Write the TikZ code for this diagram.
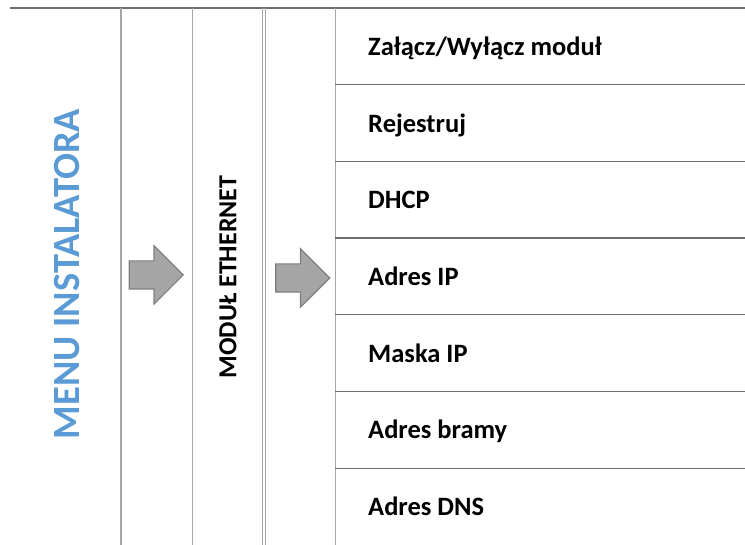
\documentclass[tikz,border=0pt]{standalone}
\usepackage{fontspec}
\setmainfont{Carlito}
\usetikzlibrary{shapes.arrows}
\definecolor{menublue}{HTML}{5B9BD5}
\definecolor{gridgray}{HTML}{A6A6A6}
\definecolor{rulegray}{HTML}{6E6E6E}
\definecolor{arrowfill}{HTML}{A5A5A5}
\definecolor{arrowline}{HTML}{7F7F7F}

\begin{document}
\begin{tikzpicture}[x=1pt,y=-1pt,
  item/.style={anchor=base west,inner sep=0pt,font=\bfseries\fontsize{26.5}{30}\selectfont},
  nextarrow/.style={single arrow,draw=arrowline,fill=arrowfill,line width=1.2pt,anchor=tip,
    minimum height=54pt,single arrow head extend=15pt,inner sep=13.5pt}]
\useasboundingbox (0,0) rectangle (745,545);
% frame lines
\draw[rulegray,line width=1.3pt] (10,8) -- (745,8);
\draw[gridgray,line width=2pt] (121,8) -- (121,545);
\draw[gridgray,line width=1pt] (192,8) -- (192,545);
\draw[gridgray,line width=1pt] (262,8) -- (262,545);
\draw[gridgray,line width=1pt] (265,8) -- (265,545);
\draw[gridgray,line width=1pt] (335,8) -- (335,545);
% titles
\node[rotate=90,text=menublue,font=\bfseries\fontsize{38.5}{46}\selectfont] (menu) at (67,274) {MENU INSTALATORA};
\node[rotate=90,font=\bfseries\fontsize{26}{30}\selectfont] (module) at (228,277) {MODUŁ ETHERNET};
\node[nextarrow] (arrowA) at (184,275) {};
\node[nextarrow] (arrowB) at (330.5,278) {};
% menu items
\foreach \txt [count=\i] in {{Załącz/Wyłącz moduł},Rejestruj,DHCP,Adres IP,Maska IP,Adres bramy,Adres DNS}
  \node[item] (row\i) at (368,{8+76.7*(\i-0.5)+9}) {\txt};
\foreach \i in {1,...,6}
  \draw[rulegray,line width=1.3pt] (335,{8+76.7*\i}) -- (745,{8+76.7*\i});
\end{tikzpicture}
\end{document}
